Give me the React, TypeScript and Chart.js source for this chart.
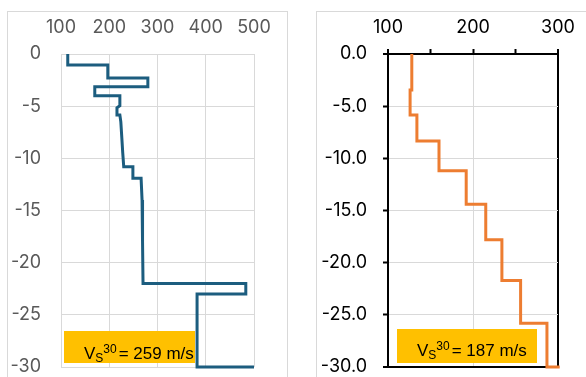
import React, { useEffect, useRef } from "react";
import { Chart, registerables } from "chart.js";

Chart.register(...registerables);

// Left profile: shear-wave velocity (m/s) and depth (m) at each vertex of the profile
const leftVs = [114, 114, 197, 197, 280, 280, 170, 170, 222, 222, 216, 216, 222, 224, 226, 228, 230, 249, 249, 266, 268, 269, 270, 483, 483, 382, 382, 500];
const leftDepth = [0, -1.05, -1.05, -2.3, -2.3, -3.15, -3.15, -4.0, -4.0, -4.95, -5.15, -5.85, -5.85, -6.5, -8.0, -9.5, -10.8, -10.8, -11.9, -11.9, -14, -18, -22.0, -22.0, -23.0, -23.0, -30, -30];
const leftVs30 = 259;

// Right profile: layer velocities (m/s) and layer bottom depths (m)
const rightVs = [128, 126, 134, 160, 192, 215, 234, 256, 287];
const rightBottom = [-3.45, -5.85, -8.35, -11.2, -14.4, -17.8, -21.7, -25.8, -30];
const rightEndVs = 302;
const rightVs30 = 187;

// Axis ranges
const leftXRange = [100, 500];
const rightXRange = [100, 300];
const depthRange = [-30, 0];

type Pt = { x: number; y: number };

function pairs(xs: number[], ys: number[]): Pt[] {
  return xs.map((x, i) => ({ x, y: ys[i] }));
}

function stepProfile(vs: number[], bottoms: number[], endVs: number): Pt[] {
  const pts: Pt[] = [];
  let top = 0;
  vs.forEach((v, i) => {
    pts.push({ x: v, y: top });
    pts.push({ x: v, y: bottoms[i] });
    top = bottoms[i];
  });
  pts.push({ x: endVs, y: top });
  return pts;
}

const AXIS_FONT = { family: "Inter, 'Liberation Sans', Arial, sans-serif", size: 18 };
const GRID = "#d9d9d9";

function LeftChart() {
  const ref = useRef<HTMLCanvasElement | null>(null);
  useEffect(() => {
    if (!ref.current) return;
    const chart = new Chart(ref.current, {
      type: "scatter",
      data: {
        datasets: [
          {
            data: pairs(leftVs, leftDepth),
            showLine: true,
            borderColor: "#1C5D7F",
            backgroundColor: "#1C5D7F",
            borderWidth: 3,
            pointRadius: 0,
            tension: 0,
            clip: false as any,
          },
        ],
      },
      options: {
        responsive: false,
        animation: false,
        layout: { padding: { left: 0, top: 0, right: 33, bottom: 33 } },
        plugins: { legend: { display: false }, tooltip: { enabled: false } },
        scales: {
          x: {
            type: "linear",
            position: "top",
            min: leftXRange[0],
            max: leftXRange[1],
            ticks: { stepSize: 100, color: "#595959", font: AXIS_FONT, padding: 16, maxRotation: 0 },
            grid: { color: GRID, lineWidth: 1, drawTicks: false },
            border: { display: false },
            afterFit: (s: any) => {
              s.height = 42;
            },
          },
          y: {
            type: "linear",
            min: depthRange[0],
            max: depthRange[1],
            ticks: { stepSize: 5, color: "#595959", font: AXIS_FONT, padding: 20 },
            grid: { color: GRID, lineWidth: 1, drawTicks: false },
            border: { display: false },
            afterFit: (s: any) => {
              s.width = 53;
            },
          },
        },
      },
    });
    return () => chart.destroy();
  }, []);
  return <canvas ref={ref} width={279} height={388} style={{ display: "block", width: 279, height: 388 }} />;
}

function RightChart() {
  const ref = useRef<HTMLCanvasElement | null>(null);
  useEffect(() => {
    if (!ref.current) return;
    const xGridColor = (ctx: any) => {
      const v = ctx.tick ? ctx.tick.value : null;
      if (v === rightXRange[0] || v === rightXRange[1]) return "#000";
      if (v !== null && v % 100 === 0) return GRID;
      return "rgba(0,0,0,0)";
    };
    const xGridWidth = (ctx: any) => {
      const v = ctx.tick ? ctx.tick.value : null;
      return v === rightXRange[0] || v === rightXRange[1] ? 2 : 1;
    };
    const yGridColor = (ctx: any) => {
      const v = ctx.tick ? ctx.tick.value : null;
      return v === depthRange[0] || v === depthRange[1] ? "#000" : GRID;
    };
    const yGridWidth = (ctx: any) => {
      const v = ctx.tick ? ctx.tick.value : null;
      return v === depthRange[0] || v === depthRange[1] ? 2 : 1;
    };
    const chart = new Chart(ref.current, {
      type: "scatter",
      data: {
        datasets: [
          {
            data: stepProfile(rightVs, rightBottom, rightEndVs),
            showLine: true,
            borderColor: "#ED7D31",
            backgroundColor: "#ED7D31",
            borderWidth: 3,
            pointRadius: 0,
            tension: 0,
            clip: false as any,
          },
        ],
      },
      options: {
        responsive: false,
        animation: false,
        layout: { padding: { left: 0, top: 0, right: 57, bottom: 33 } },
        plugins: { legend: { display: false }, tooltip: { enabled: false } },
        scales: {
          x: {
            type: "linear",
            position: "top",
            min: rightXRange[0],
            max: rightXRange[1],
            ticks: {
              stepSize: 50,
              color: "#000",
              font: AXIS_FONT,
              padding: 11,
              maxRotation: 0,
              autoSkip: false,
              callback: (v: any) => (Number(v) % 100 === 0 ? String(v) : ""),
            },
            grid: {
              color: xGridColor,
              lineWidth: xGridWidth,
              drawTicks: true,
              tickLength: 5,
              tickColor: "#000",
              tickWidth: 2,
            },
            border: { display: true, color: "#000", width: 2 },
            afterFit: (s: any) => {
              s.height = 42;
            },
          },
          y: {
            type: "linear",
            min: depthRange[0],
            max: depthRange[1],
            ticks: {
              stepSize: 5,
              color: "#000",
              font: AXIS_FONT,
              padding: 16,
              callback: (v: any) => (Number(v) === 0 ? "0.0" : Number(v).toFixed(1)),
            },
            grid: {
              color: yGridColor,
              lineWidth: yGridWidth,
              drawTicks: true,
              tickLength: 5,
              tickColor: "#000",
              tickWidth: 2,
            },
            border: { display: true, color: "#000", width: 2 },
            afterFit: (s: any) => {
              s.width = 71;
            },
          },
        },
      },
    });
    return () => chart.destroy();
  }, []);
  return <canvas ref={ref} width={298} height={388} style={{ display: "block", width: 298, height: 388 }} />;
}

function Vs30Box({ left, top, width, height, textTop, value }: any) {
  return (
    <div
      style={{
        position: "absolute",
        left,
        top,
        width,
        height,
        background: "#FFC000",
      }}
    >
      <div
        style={{
          position: "absolute",
          left: 20,
          top: textTop,
          whiteSpace: "nowrap",
          fontFamily: "'Liberation Sans', Arial, sans-serif",
          fontSize: 17,
          lineHeight: "17px",
          color: "#000",
        }}
      >
        V
        <span style={{ position: "relative", top: 3, fontSize: 12 }}>S</span>
        <span style={{ position: "relative", top: -6, fontSize: 12, marginRight: 2 }}>30</span>
        {"= " + value + " m/s"}
      </div>
    </div>
  );
}

export default function App() {
  return (
    <div
      style={{
        position: "fixed",
        left: 0,
        top: 0,
        width: 586,
        height: 377,
        overflow: "hidden",
        background: "#fff",
      }}
    >
      <div
        style={{
          position: "absolute",
          left: 7,
          top: 11,
          width: 281,
          height: 390,
          boxSizing: "border-box",
          border: "1px solid #d9d9d9",
        }}
      >
        <LeftChart />
      </div>
      <div
        style={{
          position: "absolute",
          left: 316,
          top: 11,
          width: 300,
          height: 390,
          boxSizing: "border-box",
          border: "1px solid #d9d9d9",
        }}
      >
        <RightChart />
      </div>
      <Vs30Box left={64} top={331} width={131} height={32} textTop={14} value={leftVs30} />
      <Vs30Box left={397} top={329} width={140} height={34} textTop={13} value={rightVs30} />
    </div>
  );
}
